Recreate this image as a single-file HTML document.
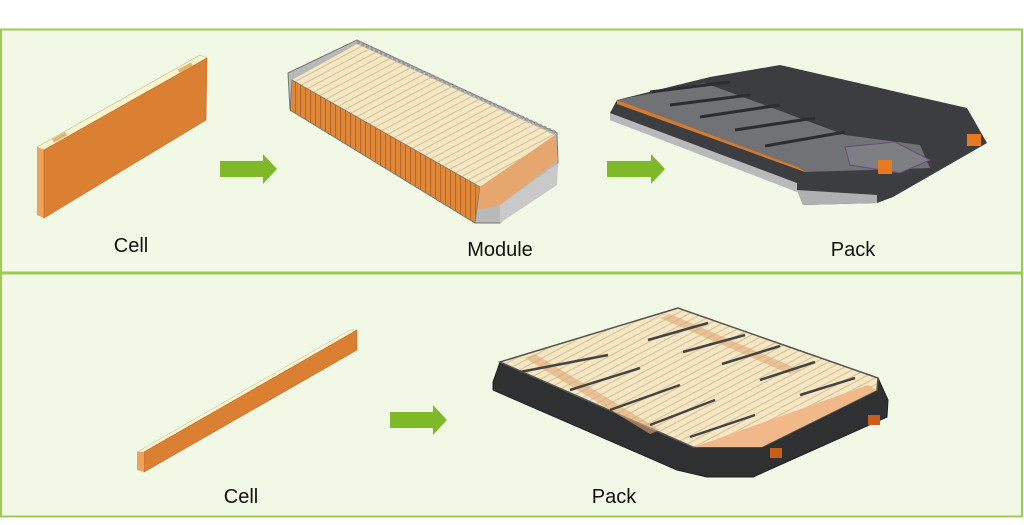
<!DOCTYPE html>
<html><head><meta charset="utf-8"><style>
html,body{margin:0;padding:0;background:#fff;}
svg{display:block}
text{font-family:"Liberation Sans",Arial,sans-serif;font-size:20px;fill:#111}
</style></head><body>
<svg width="1024" height="525" viewBox="0 0 1024 525" xmlns="http://www.w3.org/2000/svg">
<defs>
<pattern id="str" width="6" height="6" patternUnits="userSpaceOnUse" patternTransform="rotate(-28)">
<rect width="6" height="6" fill="#f6e7c4"/><rect width="6" height="1.2" fill="#d9c49a"/></pattern>
<pattern id="vstr" width="5" height="5" patternUnits="userSpaceOnUse" patternTransform="skewY(-18)">
<rect width="5" height="5" fill="#e08838"/><rect width="1" height="5" fill="#b5652a"/></pattern>
</defs>
<rect x="1" y="29.5" width="1021" height="243" fill="#f1f8e6" stroke="#9ccb50" stroke-width="2"/>
<rect x="1" y="273.5" width="1021" height="243" fill="#f1f8e6" stroke="#9ccb50" stroke-width="2"/>

<!-- top cell -->
<polygon points="37,147 200,55 207,58 44,150" fill="#fbf3cc" stroke="#c9b98a" stroke-width="0.6"/>
<polygon points="37,147 44,150 44,218 37,215" fill="#eea25a"/>
<polygon points="44,150 207,58 206,120 44,218" fill="#db8032" stroke="#b86a2a" stroke-width="0.6"/>
<rect x="52" y="135" width="15" height="4" fill="#e9b46a" transform="rotate(-29 60 137)"/>
<rect x="178" y="66" width="15" height="4" fill="#e9b46a" transform="rotate(-29 185 68)"/>

<!-- arrows -->
<polygon points="220,161 263,161 263,154 277,169 263,184 263,177 220,177" fill="#80b928"/>
<polygon points="607,161 651,161 651,154 665,169 651,184 651,177 607,177" fill="#80b928"/>
<polygon points="390,412 433,412 433,405 447,420 433,435 433,428 390,428" fill="#80b928"/>

<!-- module -->
<polygon points="288,73 357,40 557,133 558,163 500,223 475,223 290,110" fill="#b9b9b9" stroke="#777" stroke-width="1"/>
<polygon points="292,80 357,44 555,135 480,187" fill="url(#str)"/>
<polygon points="292,80 480,187 475,223 290,110" fill="url(#vstr)" stroke="#777" stroke-width="0.8"/>
<polygon points="480,187 555,135 558,160 500,205 478,210" fill="#eca466" opacity="0.9"/>
<polygon points="500,205 558,163 557,185 500,223" fill="#c9c9c9"/>
<line x1="357" y1="42" x2="557" y2="133" stroke="#999" stroke-width="3" stroke-dasharray="3 2"/>

<!-- top pack -->
<polygon points="610,113 617,100 710,77 780,65 967,108 987,143 893,197 877,203 803,205 797,190 610,120" fill="#3c3d40"/>
<polygon points="610,113 797,183 797,192 610,120" fill="#b8b9bb"/>
<polygon points="797,190 803,205 877,203 877,195" fill="#aeb0b2"/>
<polygon points="617,100 705,83 845,135 920,145 930,168 870,170 805,172" fill="#707275"/>
<polygon points="617,104 805,172 800,168 617,100" fill="#d97a2a"/>
<polygon points="845,147 895,142 930,160 900,173 850,165" fill="#7d7f83" stroke="#6a4c7a" stroke-width="1"/>
<g stroke="#2c2d30" stroke-width="3">
<line x1="650" y1="92" x2="730" y2="82"/><line x1="670" y1="105" x2="750" y2="95"/>
<line x1="700" y1="117" x2="780" y2="105"/><line x1="735" y1="130" x2="815" y2="118"/>
<line x1="765" y1="146" x2="845" y2="132"/>
</g>
<rect x="878" y="160" width="14" height="14" fill="#e67a22"/>
<rect x="967" y="134" width="14" height="12" fill="#e67a22"/>

<!-- bottom cell -->
<polygon points="137,452 350,330 357,330 144,452" fill="#fbf3cc" stroke="#c9b98a" stroke-width="0.5"/>
<polygon points="144,452 357,330 357,350 144,472" fill="#db8032" stroke="#b86a2a" stroke-width="0.6"/>
<polygon points="137,452 144,452 144,472 137,470" fill="#eea25a"/>

<!-- bottom pack -->
<polygon points="493,382 500,362 678,308 878,378 888,400 887,417 753,477 707,477 677,470 493,390" fill="#2f3032" stroke="#222" stroke-width="1"/>
<polygon points="500,362 678,308 878,378 877,390 762,447 693,447" fill="url(#str)" stroke="#555" stroke-width="1.5"/>
<polygon points="525,358 535,354 660,430 650,434" fill="#e0a878" opacity="0.6"/>
<polygon points="660,318 670,314 800,370 790,374" fill="#e0a878" opacity="0.6"/>
<polygon points="700,445 868,385 877,390 762,447 693,447" fill="#f1b98a"/>
<g stroke="#444" stroke-width="2.5" fill="none">
<line x1="520" y1="372" x2="608" y2="355"/><line x1="570" y1="390" x2="640" y2="368"/>
<line x1="610" y1="410" x2="680" y2="385"/><line x1="650" y1="425" x2="715" y2="400"/>
<line x1="690" y1="437" x2="755" y2="415"/><line x1="648" y1="340" x2="708" y2="323"/>
<line x1="683" y1="352" x2="745" y2="335"/><line x1="722" y1="364" x2="780" y2="346"/>
<line x1="760" y1="380" x2="815" y2="362"/><line x1="800" y1="395" x2="855" y2="378"/>
</g>
<rect x="770" y="448" width="12" height="10" fill="#c95e1a"/>
<rect x="868" y="415" width="12" height="10" fill="#c95e1a"/>

<text x="131" y="252" text-anchor="middle">Cell</text>
<text x="500" y="256" text-anchor="middle">Module</text>
<text x="853" y="256" text-anchor="middle">Pack</text>
<text x="241" y="503" text-anchor="middle">Cell</text>
<text x="614" y="503" text-anchor="middle">Pack</text>
</svg>
</body></html>
